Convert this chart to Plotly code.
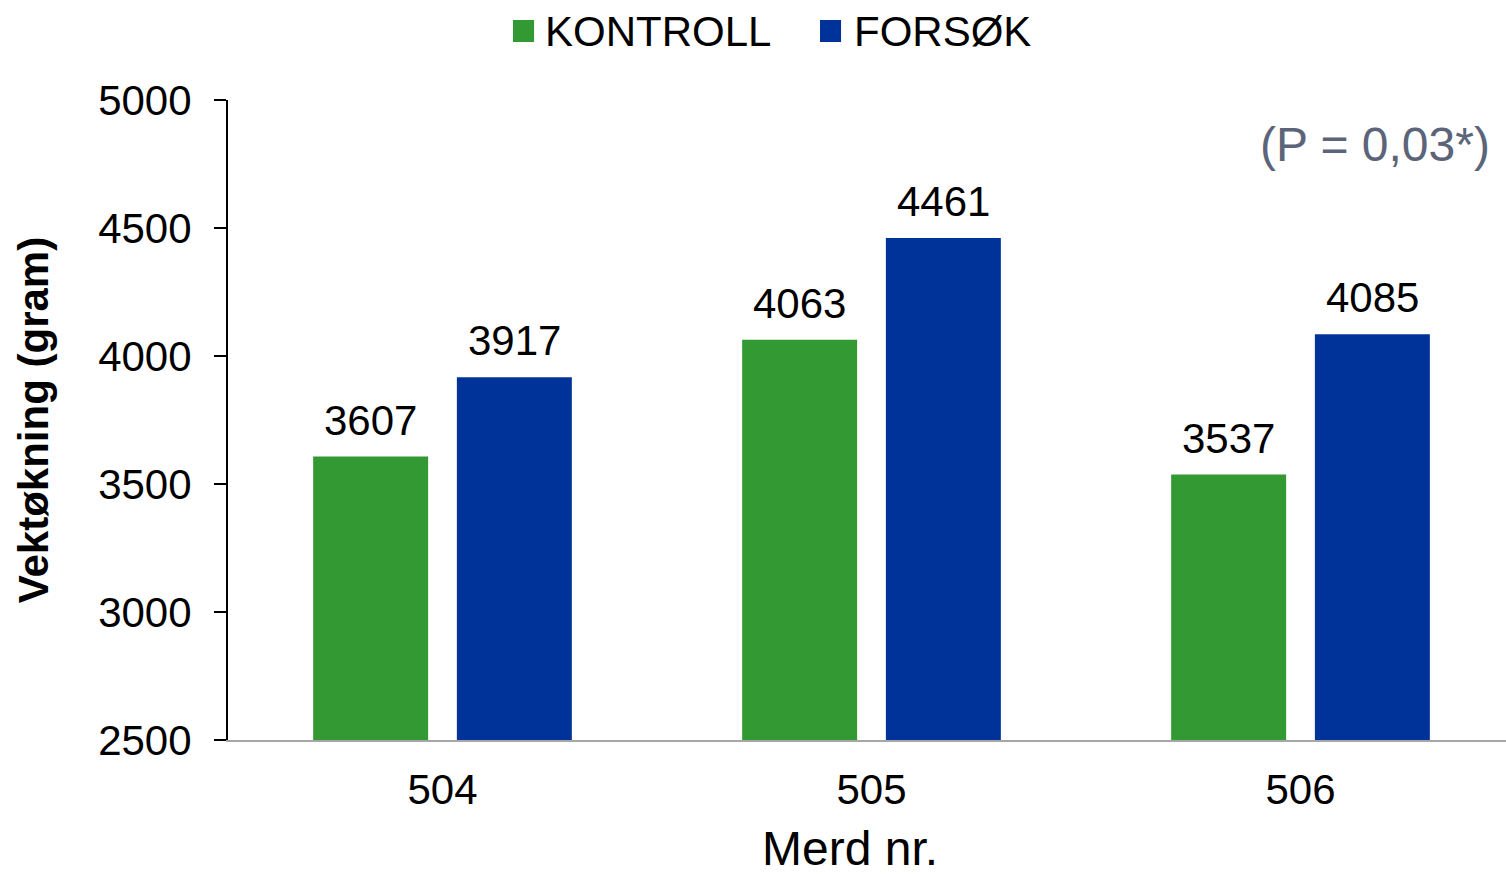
import plotly.graph_objects as go

# Merd (net pen) numbers and weight gain per group
merder = ["504", "505", "506"]
kontroll = [3607, 4063, 3537]
forsok = [3917, 4461, 4085]
series_names = ["KONTROLL", "FORSØK"]
y_ticks = [2500, 3000, 3500, 4000, 4500, 5000]

GREEN = "#339933"
BLUE = "#003399"
FONT = "Liberation Sans, Arial, sans-serif"
colors = [GREEN, BLUE]

# geometry of the plot area
FIG_W, FIG_H = 1506, 874
M_L, M_R, M_T, M_B = 228, 0, 100, 134
X_RANGE = [-0.5, 2.479]
BARGAP = 0.33
plot_w = FIG_W - M_L - M_R
cat_px = plot_w / (X_RANGE[1] - X_RANGE[0])
half_group = cat_px * (1 - BARGAP) / 4  # offset of each bar centre from category centre

fig = go.Figure()

for name, vals, col in zip(series_names, [kontroll, forsok], colors):
    fig.add_trace(go.Bar(
        x=merder, y=vals, name=name, marker_color=col, marker_line_width=0,
        showlegend=False,
    ))

annotations = []
# value labels above each bar (category index as x position)
for vals, sign in [(kontroll, -1), (forsok, 1)]:
    for i, v in enumerate(vals):
        annotations.append(dict(
            x=i, y=v, xref="x", yref="y", text=str(v), showarrow=False,
            xanchor="center", yanchor="bottom", xshift=sign * half_group, yshift=11,
            font=dict(size=42, color="black", family=FONT),
        ))

# legend drawn as square swatches + labels above the plot area
legend_items = [
    (series_names[0], GREEN, 0.2230, 0.2465),
    (series_names[1], BLUE, 0.4632, 0.4883),
]
shapes = []
for name, col, sx, tx in legend_items:
    shapes.append(dict(
        type="rect", xref="paper", yref="paper",
        x0=sx, x1=sx + 0.0165, y0=1.0906, y1=1.1250,
        fillcolor=col, line=dict(width=0),
    ))
    annotations.append(dict(
        text=name, xref="paper", yref="paper", x=tx, y=1.1078,
        xanchor="left", yanchor="middle", showarrow=False,
        font=dict(size=42, color="black", family=FONT),
    ))

annotations.append(dict(
    text="(P = 0,03*)", xref="paper", yref="paper", x=0.989, y=0.930,
    xanchor="right", yanchor="middle", showarrow=False,
    font=dict(size=48, color="#5b6478", family=FONT),
))

# x-axis title
annotations.append(dict(
    text="Merd nr.", xref="paper", yref="paper", x=0.4867, y=-0.170,
    xanchor="center", yanchor="middle", showarrow=False,
    font=dict(size=48, color="black", family=FONT),
))

fig.update_layout(
    width=FIG_W, height=FIG_H,
    margin=dict(l=M_L, r=M_R, t=M_T, b=M_B, autoexpand=False),
    paper_bgcolor="white", plot_bgcolor="white",
    barmode="group", bargap=BARGAP, bargroupgap=0.2,
    font=dict(family=FONT, color="black"),
    showlegend=False,
    xaxis=dict(
        type="category", range=X_RANGE, showline=True, linecolor="#a6a6a6",
        linewidth=2, ticks="", tickfont=dict(size=42), showgrid=False,
        ticklabelstandoff=12,
    ),
    yaxis=dict(
        range=[2500, 5000], tickvals=y_ticks, showline=True, linecolor="black",
        linewidth=2, ticks="outside", ticklen=12, tickwidth=2, tickcolor="black",
        tickfont=dict(size=42), showgrid=False, zeroline=False,
        ticklabelstandoff=14,
        title=dict(text="<b>Vektøkning (gram)</b>", font=dict(size=42), standoff=36),
    ),
    shapes=shapes,
    annotations=annotations,
)

fig.write_html("out.html")
